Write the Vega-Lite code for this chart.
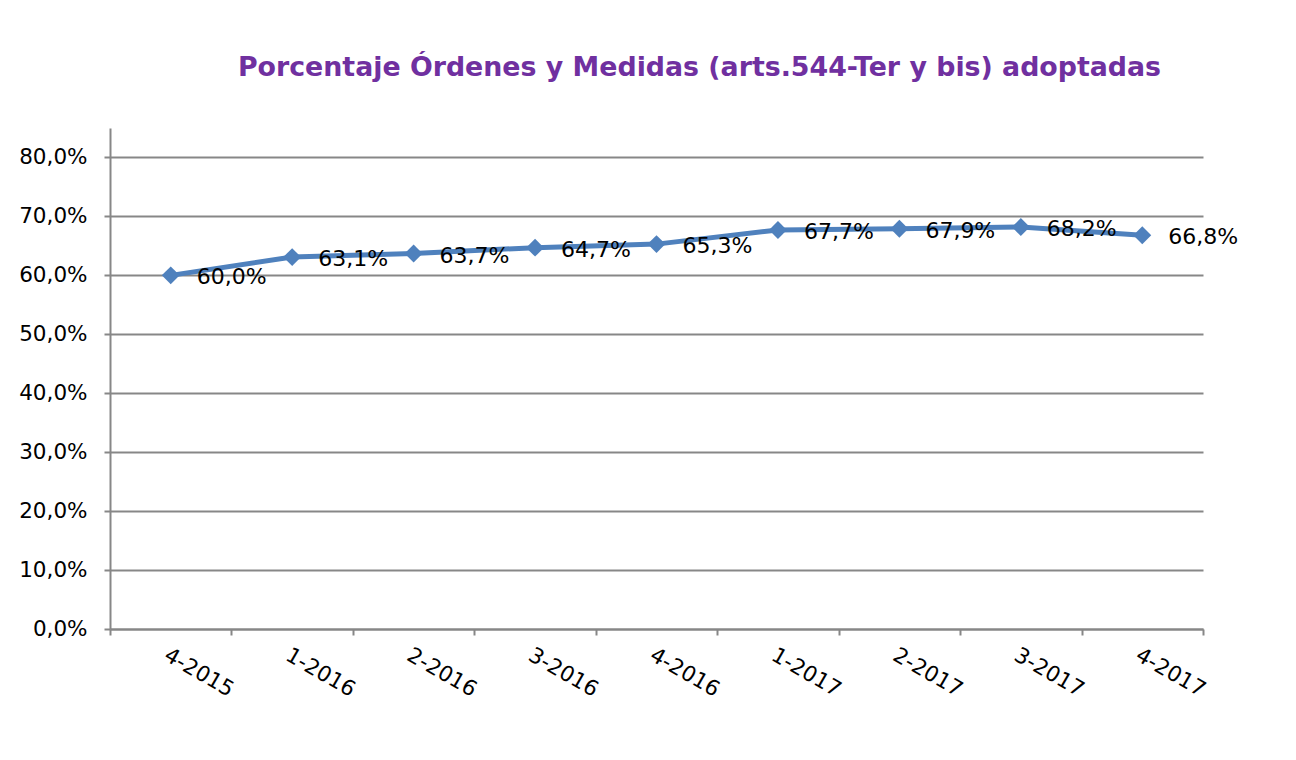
{
  "$schema": "https://vega.github.io/schema/vega-lite/v6.json",
  "autosize": "none",
  "padding": {"left": 110, "top": 128, "right": 93, "bottom": 131},
  "width": 1093,
  "height": 501,
  "background": "white",
  "config": {
    "view": {"stroke": null},
    "locale": {"number": {"decimal": ",", "thousands": ".", "grouping": [3], "currency": ["", " €"]}},
    "font": "DejaVu Sans"
  },
  "title": {
    "text": "Porcentaje Órdenes y Medidas (arts.544-Ter y bis) adoptadas",
    "font": "DejaVu Sans",
    "fontSize": 26.8,
    "fontWeight": "bold",
    "color": "#7030A0",
    "anchor": "middle",
    "dx": 43,
    "offset": 46
  },
  "data": {
    "values": [
      {"periodo": "4-2015", "valor": 0.600},
      {"periodo": "1-2016", "valor": 0.631},
      {"periodo": "2-2016", "valor": 0.637},
      {"periodo": "3-2016", "valor": 0.647},
      {"periodo": "4-2016", "valor": 0.653},
      {"periodo": "1-2017", "valor": 0.677},
      {"periodo": "2-2017", "valor": 0.679},
      {"periodo": "3-2017", "valor": 0.682},
      {"periodo": "4-2017", "valor": 0.668}
    ]
  },
  "encoding": {
    "x": {
      "field": "periodo",
      "type": "ordinal",
      "sort": null,
      "title": null,
      "scale": {"paddingInner": 0, "paddingOuter": 0},
      "axis": {
        "tickBand": "extent",
        "labelAngle": 30,
        "labelAlign": "left",
        "labelBaseline": "top",
        "labelFont": "DejaVu Sans",
        "labelFontSize": 21.5,
        "labelColor": "black",
        "labelPadding": 9,
        "tickSize": 6,
        "tickColor": "#878787",
        "tickWidth": 2,
        "domainColor": "#878787",
        "domainWidth": 2,
        "grid": false
      }
    },
    "y": {
      "field": "valor",
      "type": "quantitative",
      "title": null,
      "scale": {"domain": [0, 0.85], "nice": false},
      "axis": {
        "values": [0, 0.1, 0.2, 0.3, 0.4, 0.5, 0.6, 0.7, 0.8],
        "format": ".1%",
        "labelFont": "DejaVu Sans",
        "labelFontSize": 21.5,
        "labelColor": "black",
        "labelPadding": 17,
        "tickSize": 6,
        "tickColor": "#878787",
        "tickWidth": 2,
        "domainColor": "#878787",
        "domainWidth": 2,
        "grid": true,
        "gridColor": "#878787",
        "gridWidth": 2
      }
    }
  },
  "layer": [
    {
      "mark": {"type": "line", "color": "#4F81BD", "strokeWidth": 5}
    },
    {
      "mark": {"type": "point", "shape": "diamond", "filled": true, "color": "#4F81BD", "size": 320, "opacity": 1}
    },
    {
      "mark": {"type": "text", "align": "left", "baseline": "middle", "dx": 26, "dy": 2, "font": "DejaVu Sans", "fontSize": 22, "color": "black"},
      "encoding": {"text": {"field": "valor", "type": "quantitative", "format": ".1%"}}
    }
  ]
}
